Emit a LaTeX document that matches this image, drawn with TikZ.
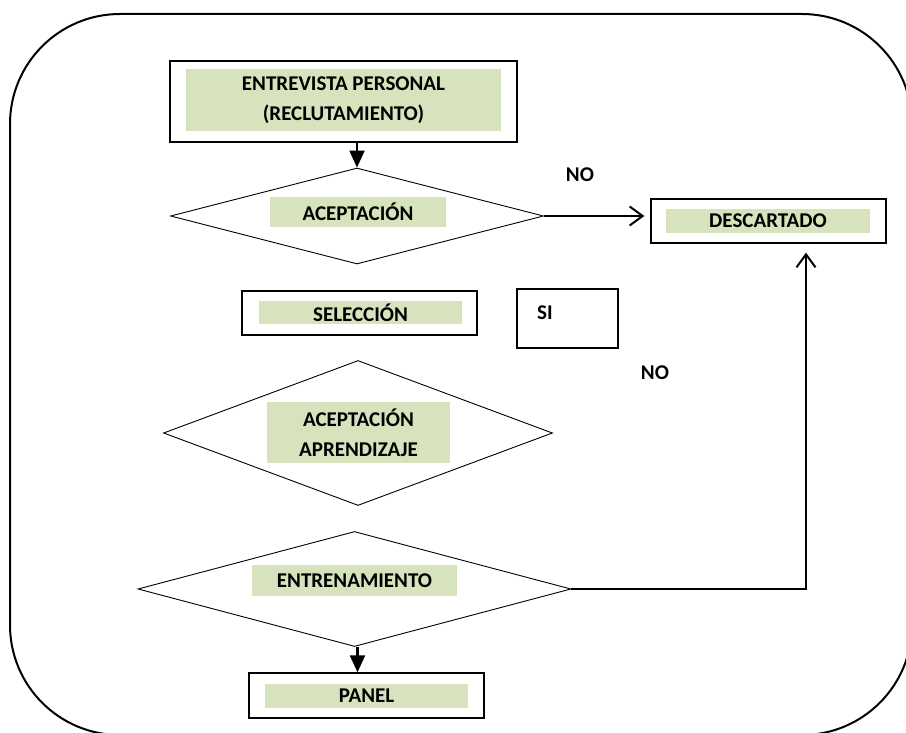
\documentclass[tikz,border=0pt]{standalone}
\usepackage{fontspec}
\setmainfont{Carlito}
\usetikzlibrary{shapes.geometric, arrows.meta, positioning}
\definecolor{labelgreen}{HTML}{D6E3BC}
\newcommand{\chartfont}{\fontsize{21}{30}\selectfont\bfseries}

\tikzset{
  stepbox/.style={draw, line width=1.3pt, inner sep=0pt},
  decision/.style={diamond, draw, line width=0.9pt, inner sep=0pt},
  tag/.style={fill=labelgreen, inner sep=0pt, font=\chartfont, align=center},
  answer/.style={font=\chartfont, inner sep=0pt},
  flow/.style={line width=2.2pt, -{Triangle[width=15pt,length=17pt]}},
  reject/.style={line width=2pt, -{Straight Barb[width=19pt,length=13pt]}},
}

\begin{document}
\begin{tikzpicture}[x=1pt, y=-1pt]
% Canvas and rounded frame
\path[use as bounding box, fill=white] (0,0) rectangle (906,733);
\begin{scope}
\clip (0,0) rectangle (906,733);
\draw[line width=2pt, rounded corners=110pt] (10,14) rectangle (912,735);
\end{scope}
% Steps
\node[stepbox, minimum width=347pt, minimum height=81pt] (entrevista) at (343.5,101.5) {};
\node[tag, minimum width=315pt, minimum height=62pt] (entrevistaTxt) at (343.5,100) {ENTREVISTA PERSONAL\\(RECLUTAMIENTO)};
\node[decision, minimum width=373pt, minimum height=96pt] (aceptacion) at (357,216) {};
\node[tag, minimum width=176pt, minimum height=30pt] (aceptacionTxt) at (358,212) {ACEPTACIÓN};
\node[stepbox, minimum width=235pt, minimum height=44pt] (descartado) at (768.5,221) {};
\node[tag, minimum width=204pt, minimum height=24pt] (descartadoTxt) at (768,221) {DESCARTADO};
\node[stepbox, minimum width=235pt, minimum height=44pt] (seleccion) at (359.5,313) {};
\node[tag, minimum width=203pt, minimum height=23pt] (seleccionTxt) at (360.5,312.5) {SELECCIÓN};
\node[stepbox, minimum width=101pt, minimum height=59pt] (si) at (567.5,318.5) {};
\node[answer, anchor=west] (siTxt) at (537,313) {SI};
\node[decision, minimum width=389pt, minimum height=145pt] (aprendizaje) at (358,433) {};
\node[tag, minimum width=183pt, minimum height=61pt] (aprendizajeTxt) at (358.5,432.5) {ACEPTACIÓN\\APRENDIZAJE};
\node[decision, minimum width=433pt, minimum height=115pt] (entrenamiento) at (354.5,589) {};
\node[tag, minimum width=205pt, minimum height=31pt] (entrenamientoTxt) at (354.5,580.5) {ENTRENAMIENTO};
\node[stepbox, minimum width=235pt, minimum height=45pt] (panel) at (366.5,695.5) {};
\node[tag, minimum width=203pt, minimum height=24pt] (panelTxt) at (366.5,696) {PANEL};
% Answers
\node[answer] (noUno) at (580,175) {NO};
\node[answer] (noDos) at (655,373) {NO};
% Connectors
\draw[flow] (entrevista.south -| aceptacion.north) -- (aceptacion.north);
\draw[reject, shorten >=6pt] (aceptacion.east) -- (aceptacion.east -| descartado.west);
\draw[reject, shorten >=9pt] (entrenamiento.east) -| ([xshift=37.5pt]descartado.south);
\draw[flow] ([xshift=3pt]entrenamiento.south) -- ([xshift=3pt]entrenamiento.south |- panel.north);
\end{tikzpicture}
\end{document}
